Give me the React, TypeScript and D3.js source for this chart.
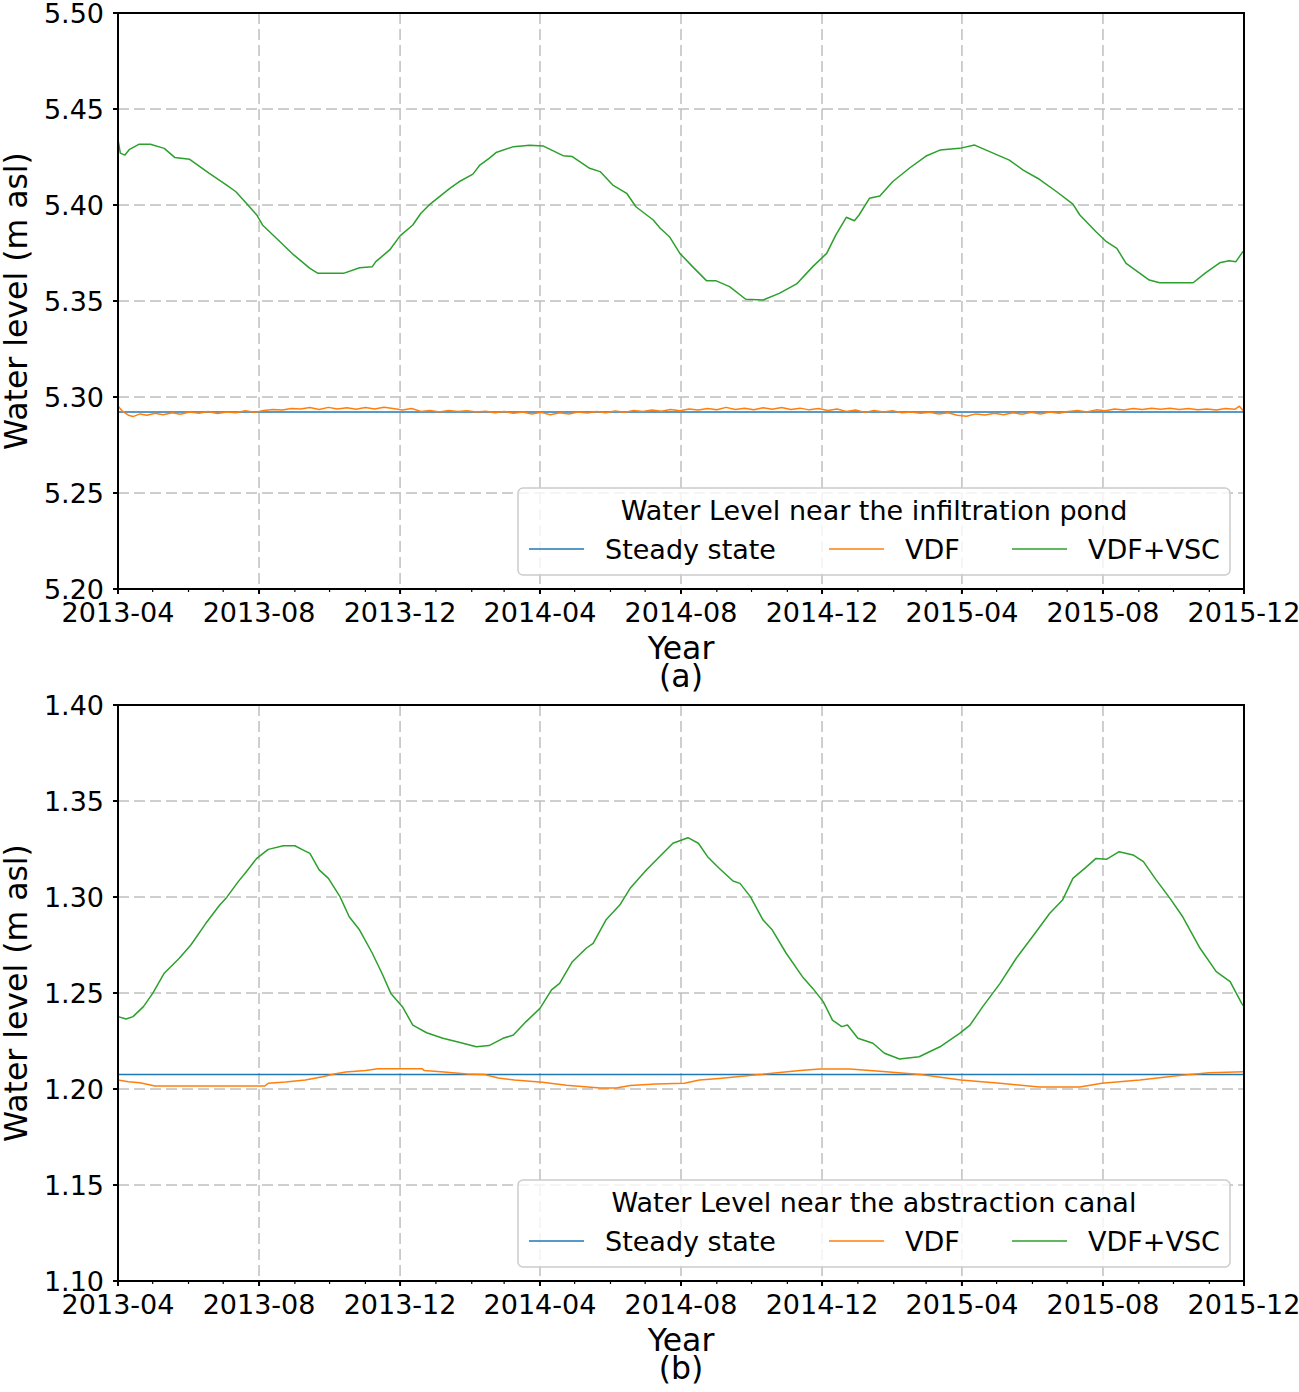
import React from 'react';
import * as d3 from 'd3';

// ---------- data ----------
const DATE_START = '2013-04-01';
const DATE_END = '2015-12-01';
const xTickLabels = ['2013-04', '2013-08', '2013-12', '2014-04', '2014-08', '2014-12', '2015-04', '2015-08', '2015-12'];
const yTicksA = [5.2, 5.25, 5.3, 5.35, 5.4, 5.45, 5.5];
const yTicksB = [1.1, 1.15, 1.2, 1.25, 1.3, 1.35, 1.4];
const seriesNames = ['Steady state', 'VDF', 'VDF+VSC'];
const legendTitles = ['Water Level near the infiltration pond', 'Water Level near the abstraction canal'];
const panelLetters = ['(a)', '(b)'];

const steadyA = 5.2922;
const steadyB = 1.2075;

const greenA: [string, number][] = [
  ['2013-04-01', 5.434], ['2013-04-03', 5.427], ['2013-04-07', 5.426], ['2013-04-11', 5.429], ['2013-04-19', 5.4316],
  ['2013-04-29', 5.4316], ['2013-05-11', 5.4295], ['2013-05-20', 5.4248], ['2013-06-02', 5.4238], ['2013-06-19', 5.4165],
  ['2013-07-04', 5.4104], ['2013-07-12', 5.4069], ['2013-07-21', 5.4009], ['2013-07-30', 5.3948], ['2013-08-04', 5.3896],
  ['2013-08-16', 5.3827], ['2013-08-31', 5.374], ['2013-09-14', 5.367], ['2013-09-21', 5.3644], ['2013-10-13', 5.3644],
  ['2013-10-27', 5.3673], ['2013-11-07', 5.3679], ['2013-11-10', 5.3705], ['2013-11-22', 5.3766], ['2013-12-01', 5.3839],
  ['2013-12-12', 5.3896], ['2013-12-19', 5.3957], ['2013-12-27', 5.4005], ['2014-01-13', 5.4087], ['2014-01-21', 5.4121],
  ['2014-02-02', 5.4161], ['2014-02-08', 5.4208], ['2014-02-16', 5.4243], ['2014-02-22', 5.4273], ['2014-03-09', 5.4304],
  ['2014-03-23', 5.4311], ['2014-04-04', 5.4307], ['2014-04-21', 5.4257], ['2014-04-29', 5.4252], ['2014-05-14', 5.4191],
  ['2014-05-23', 5.4174], ['2014-06-03', 5.4104], ['2014-06-15', 5.4061], ['2014-06-23', 5.3991], ['2014-07-08', 5.3922],
  ['2014-07-14', 5.3879], ['2014-07-22', 5.3835], ['2014-07-31', 5.3748], ['2014-08-11', 5.3679], ['2014-08-23', 5.3606],
  ['2014-08-31', 5.3606], ['2014-09-12', 5.3575], ['2014-09-26', 5.3509], ['2014-10-11', 5.3505], ['2014-10-25', 5.354],
  ['2014-11-09', 5.3589], ['2014-11-23', 5.3679], ['2014-12-05', 5.3748], ['2014-12-13', 5.3844], ['2014-12-22', 5.3936],
  ['2014-12-29', 5.3918], ['2015-01-02', 5.3948], ['2015-01-11', 5.4035], ['2015-01-20', 5.4047], ['2015-01-31', 5.4121],
  ['2015-02-15', 5.4194], ['2015-03-01', 5.4255], ['2015-03-13', 5.4286], ['2015-03-30', 5.4295], ['2015-04-12', 5.4312],
  ['2015-04-25', 5.4278], ['2015-05-12', 5.4234], ['2015-05-24', 5.4182], ['2015-06-07', 5.4134], ['2015-06-22', 5.4069],
  ['2015-07-06', 5.4005], ['2015-07-12', 5.3948], ['2015-07-26', 5.3861], ['2015-08-04', 5.3809], ['2015-08-13', 5.3774],
  ['2015-08-21', 5.3696], ['2015-09-02', 5.3644], ['2015-09-10', 5.3609], ['2015-09-19', 5.3595], ['2015-10-09', 5.3595],
  ['2015-10-18', 5.3595], ['2015-10-29', 5.3648], ['2015-11-10', 5.3699], ['2015-11-18', 5.371], ['2015-11-24', 5.3705],
  ['2015-11-30', 5.3757], ['2015-12-01', 5.376],
];

const orangeA: [string, number][] = [
  ['2013-04-01', 5.2953], ['2013-04-05', 5.2925], ['2013-04-10', 5.2905], ['2013-04-14', 5.2898], ['2013-04-20', 5.2912],
  ['2013-04-26', 5.2905], ['2013-05-03', 5.2915], ['2013-05-10', 5.2908], ['2013-05-18', 5.2918], ['2013-05-25', 5.291],
  ['2013-06-02', 5.2922], ['2013-06-10', 5.2915], ['2013-06-18', 5.2925], ['2013-06-26', 5.2914], ['2013-07-04', 5.2922],
  ['2013-07-12', 5.2918], ['2013-07-20', 5.2928], ['2013-07-28', 5.292], ['2013-08-05', 5.293], ['2013-08-13', 5.2935],
  ['2013-08-21', 5.2932], ['2013-08-29', 5.294], ['2013-09-06', 5.2938], ['2013-09-14', 5.2945], ['2013-09-22', 5.2935],
  ['2013-09-30', 5.2946], ['2013-10-08', 5.2938], ['2013-10-16', 5.2944], ['2013-10-24', 5.2936], ['2013-11-01', 5.2945],
  ['2013-11-09', 5.2938], ['2013-11-17', 5.2947], ['2013-11-25', 5.294], ['2013-12-03', 5.2932], ['2013-12-11', 5.294],
  ['2013-12-19', 5.2925], ['2013-12-27', 5.293], ['2014-01-04', 5.2922], ['2014-01-12', 5.293], ['2014-01-20', 5.2924],
  ['2014-01-28', 5.2928], ['2014-02-05', 5.2922], ['2014-02-13', 5.2926], ['2014-02-21', 5.2918], ['2014-03-01', 5.2925],
  ['2014-03-09', 5.2915], ['2014-03-17', 5.2922], ['2014-03-25', 5.2912], ['2014-04-02', 5.292], ['2014-04-10', 5.2908],
  ['2014-04-18', 5.2918], ['2014-04-26', 5.2912], ['2014-05-04', 5.2922], ['2014-05-12', 5.2916], ['2014-05-20', 5.2925],
  ['2014-05-28', 5.2918], ['2014-06-05', 5.2927], ['2014-06-13', 5.292], ['2014-06-21', 5.293], ['2014-06-29', 5.2924],
  ['2014-07-07', 5.2932], ['2014-07-15', 5.2926], ['2014-07-23', 5.2935], ['2014-07-31', 5.2928], ['2014-08-08', 5.2938],
  ['2014-08-16', 5.2932], ['2014-08-24', 5.294], ['2014-09-01', 5.2934], ['2014-09-09', 5.2946], ['2014-09-17', 5.2935],
  ['2014-09-25', 5.2942], ['2014-10-03', 5.2934], ['2014-10-11', 5.2944], ['2014-10-19', 5.2936], ['2014-10-27', 5.2945],
  ['2014-11-04', 5.2935], ['2014-11-12', 5.2942], ['2014-11-20', 5.2933], ['2014-11-28', 5.294], ['2014-12-06', 5.293],
  ['2014-12-14', 5.2938], ['2014-12-22', 5.2925], ['2014-12-30', 5.2932], ['2015-01-07', 5.292], ['2015-01-15', 5.293],
  ['2015-01-23', 5.2922], ['2015-01-31', 5.2928], ['2015-02-08', 5.2918], ['2015-02-16', 5.2922], ['2015-02-24', 5.2915],
  ['2015-03-04', 5.292], ['2015-03-12', 5.2912], ['2015-03-20', 5.2918], ['2015-03-28', 5.2905], ['2015-04-05', 5.29],
  ['2015-04-13', 5.2912], ['2015-04-21', 5.2906], ['2015-04-29', 5.2915], ['2015-05-07', 5.2908], ['2015-05-15', 5.2918],
  ['2015-05-23', 5.291], ['2015-05-31', 5.292], ['2015-06-08', 5.2912], ['2015-06-16', 5.2922], ['2015-06-24', 5.2915],
  ['2015-07-02', 5.2925], ['2015-07-10', 5.293], ['2015-07-18', 5.2922], ['2015-07-26', 5.2933], ['2015-08-03', 5.2928],
  ['2015-08-11', 5.2938], ['2015-08-19', 5.2932], ['2015-08-27', 5.294], ['2015-09-04', 5.2935], ['2015-09-12', 5.2942],
  ['2015-09-20', 5.2936], ['2015-09-28', 5.2941], ['2015-10-06', 5.2935], ['2015-10-14', 5.294], ['2015-10-22', 5.2933],
  ['2015-10-30', 5.2938], ['2015-11-07', 5.2932], ['2015-11-15', 5.294], ['2015-11-23', 5.2936], ['2015-11-27', 5.2952],
  ['2015-12-01', 5.2924],
];

const greenB: [string, number][] = [
  ['2013-04-01', 1.2377], ['2013-04-08', 1.2365], ['2013-04-14', 1.2377], ['2013-04-23', 1.2429], ['2013-05-01', 1.2498],
  ['2013-05-11', 1.2603], ['2013-05-24', 1.2681], ['2013-06-03', 1.275], ['2013-06-16', 1.2863], ['2013-06-28', 1.2958],
  ['2013-07-04', 1.2998], ['2013-07-14', 1.308], ['2013-07-21', 1.3132], ['2013-07-30', 1.3201], ['2013-08-09', 1.3248],
  ['2013-08-22', 1.3267], ['2013-09-01', 1.3267], ['2013-09-07', 1.3248], ['2013-09-14', 1.3227], ['2013-09-22', 1.3141],
  ['2013-09-30', 1.3097], ['2013-10-10', 1.3002], ['2013-10-18', 1.2897], ['2013-10-27', 1.2828], ['2013-11-07', 1.2707],
  ['2013-11-16', 1.2594], ['2013-11-23', 1.2498], ['2013-12-03', 1.2429], ['2013-12-12', 1.2333], ['2013-12-24', 1.2293],
  ['2014-01-07', 1.2264], ['2014-01-21', 1.2243], ['2014-02-05', 1.222], ['2014-02-16', 1.2226], ['2014-02-28', 1.2264],
  ['2014-03-09', 1.2281], ['2014-03-20', 1.2351], ['2014-04-01', 1.242], ['2014-04-11', 1.2516], ['2014-04-18', 1.255],
  ['2014-04-29', 1.2663], ['2014-05-11', 1.2733], ['2014-05-17', 1.2759], ['2014-05-28', 1.288], ['2014-06-09', 1.2958],
  ['2014-06-18', 1.3045], ['2014-07-02', 1.3141], ['2014-07-14', 1.3214], ['2014-07-25', 1.328], ['2014-08-07', 1.3309],
  ['2014-08-16', 1.328], ['2014-08-24', 1.321], ['2014-09-03', 1.315], ['2014-09-15', 1.3083], ['2014-09-21', 1.3071],
  ['2014-09-30', 1.3002], ['2014-10-11', 1.288], ['2014-10-19', 1.2828], ['2014-10-31', 1.2707], ['2014-11-14', 1.2585],
  ['2014-11-23', 1.2524], ['2014-12-02', 1.2455], ['2014-12-10', 1.2359], ['2014-12-18', 1.2325], ['2014-12-23', 1.2333],
  ['2015-01-01', 1.2264], ['2015-01-14', 1.2238], ['2015-01-24', 1.2186], ['2015-02-06', 1.2156], ['2015-02-23', 1.2168],
  ['2015-03-13', 1.222], ['2015-03-30', 1.229], ['2015-04-08', 1.2333], ['2015-04-19', 1.2429], ['2015-05-04', 1.255],
  ['2015-05-18', 1.2681], ['2015-06-01', 1.2793], ['2015-06-16', 1.2915], ['2015-06-27', 1.2984], ['2015-07-06', 1.3097],
  ['2015-07-18', 1.3158], ['2015-07-26', 1.3201], ['2015-08-04', 1.3196], ['2015-08-15', 1.3236], ['2015-08-27', 1.3219],
  ['2015-09-05', 1.3184], ['2015-09-16', 1.3089], ['2015-09-28', 1.2993], ['2015-10-09', 1.2897], ['2015-10-24', 1.2733],
  ['2015-11-07', 1.2611], ['2015-11-19', 1.2559], ['2015-11-29', 1.2446], ['2015-12-01', 1.243],
];

const orangeB: [string, number][] = [
  ['2013-04-01', 1.2047], ['2013-04-10', 1.2038], ['2013-04-20', 1.2033], ['2013-05-03', 1.2016], ['2013-08-06', 1.2016],
  ['2013-08-09', 1.203], ['2013-08-24', 1.2036], ['2013-09-10', 1.2047], ['2013-09-25', 1.2064], ['2013-10-05', 1.2078],
  ['2013-10-15', 1.2089], ['2013-11-01', 1.2096], ['2013-11-12', 1.2106], ['2013-12-20', 1.2106], ['2013-12-22', 1.2096],
  ['2014-01-08', 1.2089], ['2014-01-28', 1.2078], ['2014-02-12', 1.2075], ['2014-02-24', 1.2057], ['2014-03-10', 1.2047],
  ['2014-04-03', 1.2035], ['2014-04-24', 1.2019], ['2014-05-23', 1.2005], ['2014-06-06', 1.2005], ['2014-06-18', 1.2018],
  ['2014-07-10', 1.2026], ['2014-08-04', 1.203], ['2014-08-17', 1.2047], ['2014-09-03', 1.2055], ['2014-10-08', 1.2075],
  ['2014-11-12', 1.2096], ['2014-11-29', 1.2104], ['2014-12-25', 1.2104], ['2015-01-20', 1.2092], ['2015-02-24', 1.2075],
  ['2015-03-31', 1.2047], ['2015-05-04', 1.203], ['2015-06-07', 1.2011], ['2015-07-12', 1.2011], ['2015-07-31', 1.203],
  ['2015-09-02', 1.2047], ['2015-10-06', 1.207], ['2015-11-01', 1.2085], ['2015-12-01', 1.209],
];

// ---------- layout ----------
const W = 1299;
const H = 1392;
const LEFT = 118;
const RIGHT = 1244;
const PLOT_H = 576;
const COLORS = ['#1f77b4', '#ff7f0e', '#2ca02c'];
const FONT = '"DejaVu Sans", Verdana, sans-serif';

const parse = d3.utcParse('%Y-%m-%d');
const parseMonth = d3.utcParse('%Y-%m');

type Pt = [string, number];

function Panel(props: {
  top: number;
  yTicks: number[];
  steady: number;
  orange: Pt[];
  green: Pt[];
  title: string;
  letter: string;
}) {
  const { top, yTicks, steady, orange, green, title, letter } = props;
  const x = d3.scaleUtc().domain([parse(DATE_START)!, parse(DATE_END)!]).range([LEFT, RIGHT]);
  const y = d3.scaleLinear().domain([yTicks[0], yTicks[yTicks.length - 1]]).range([top + PLOT_H, top]);
  const line = d3
    .line<Pt>()
    .x((d) => x(parse(d[0])!))
    .y((d) => y(d[1]));
  const steadyPts: Pt[] = [
    [DATE_START, steady],
    [DATE_END, steady],
  ];
  const majorDates = xTickLabels.map((s) => parseMonth(s)!);
  const minorDates = d3.utcMonth.range(parse(DATE_START)!, d3.utcDay.offset(parse(DATE_END)!, 1));
  const bottom = top + PLOT_H;
  const gridStyle = { stroke: '#bfbfbf', strokeWidth: 1.5, strokeDasharray: '11,5' };

  const legX = 518;
  const legY = top + 475;
  const legW = 712;
  const legH = 87;
  const entryY = top + 536;
  const entries = [
    { x0: 529, tx: 605 },
    { x0: 829, tx: 905 },
    { x0: 1012, tx: 1088 },
  ];

  return (
    <g>
      {/* grid */}
      {majorDates.slice(1, -1).map((d, i) => (
        <line key={'gx' + i} x1={x(d)} x2={x(d)} y1={top} y2={bottom} style={gridStyle} />
      ))}
      {yTicks.slice(1, -1).map((v, i) => (
        <line key={'gy' + i} x1={LEFT} x2={RIGHT} y1={y(v)} y2={y(v)} style={gridStyle} />
      ))}
      {/* series */}
      <path d={line(steadyPts)!} fill="none" stroke={COLORS[0]} strokeWidth={1.5} />
      <path d={line(orange)!} fill="none" stroke={COLORS[1]} strokeWidth={1.5} strokeLinejoin="round" />
      <path d={line(green)!} fill="none" stroke={COLORS[2]} strokeWidth={1.5} strokeLinejoin="round" />
      {/* spines */}
      <rect x={LEFT} y={top} width={RIGHT - LEFT} height={PLOT_H} fill="none" stroke="#000" strokeWidth={2} />
      {/* x ticks */}
      {minorDates.map((d, i) => (
        <line key={'mx' + i} x1={x(d)} x2={x(d)} y1={bottom} y2={bottom + 3} stroke="#000" strokeWidth={1.2} />
      ))}
      {majorDates.map((d, i) => (
        <g key={'tx' + i}>
          <line x1={x(d)} x2={x(d)} y1={bottom} y2={bottom + 5} stroke="#000" strokeWidth={2} />
          <text x={x(d)} y={bottom + 33} textAnchor="middle" fontSize={27} fontFamily={FONT} fill="#000">
            {xTickLabels[i]}
          </text>
        </g>
      ))}
      {/* y ticks */}
      {yTicks.map((v, i) => (
        <g key={'ty' + i}>
          <line x1={LEFT - 5} x2={LEFT} y1={y(v)} y2={y(v)} stroke="#000" strokeWidth={2} />
          <text x={104} y={y(v) + 10} textAnchor="end" fontSize={27} fontFamily={FONT} fill="#000">
            {v.toFixed(2)}
          </text>
        </g>
      ))}
      {/* axis labels */}
      <text x={681} y={bottom + 70} textAnchor="middle" fontSize={31.5} fontFamily={FONT} fill="#000">
        Year
      </text>
      <text x={681} y={bottom + 98} textAnchor="middle" fontSize={31.5} fontFamily={FONT} fill="#000">
        {letter}
      </text>
      <text
        transform={`translate(27,${top + PLOT_H / 2}) rotate(-90)`}
        textAnchor="middle"
        fontSize={31.5}
        fontFamily={FONT}
        fill="#000"
      >
        Water level (m asl)
      </text>
      {/* legend */}
      <rect x={legX} y={legY} width={legW} height={legH} rx={5} fill="#fff" fillOpacity={0.8} stroke="#cccccc" strokeWidth={1.5} />
      <text x={legX + legW / 2} y={top + 507} textAnchor="middle" fontSize={27} fontFamily={FONT} fill="#000">
        {title}
      </text>
      {entries.map((e, i) => (
        <g key={'le' + i}>
          <line x1={e.x0} x2={e.x0 + 55} y1={entryY} y2={entryY} stroke={COLORS[i]} strokeWidth={1.5} />
          <text x={e.tx} y={entryY + 10} fontSize={27} fontFamily={FONT} fill="#000">
            {seriesNames[i]}
          </text>
        </g>
      ))}
    </g>
  );
}

export default function App() {
  return (
    <svg
      width={W}
      height={H}
      viewBox={`0 0 ${W} ${H}`}
      style={{ position: 'absolute', left: 0, top: 0, background: '#fff' }}
    >
      <rect x={0} y={0} width={W} height={H} fill="#fff" />
      <Panel top={13} yTicks={yTicksA} steady={steadyA} orange={orangeA} green={greenA} title={legendTitles[0]} letter={panelLetters[0]} />
      <Panel top={705} yTicks={yTicksB} steady={steadyB} orange={orangeB} green={greenB} title={legendTitles[1]} letter={panelLetters[1]} />
    </svg>
  );
}
